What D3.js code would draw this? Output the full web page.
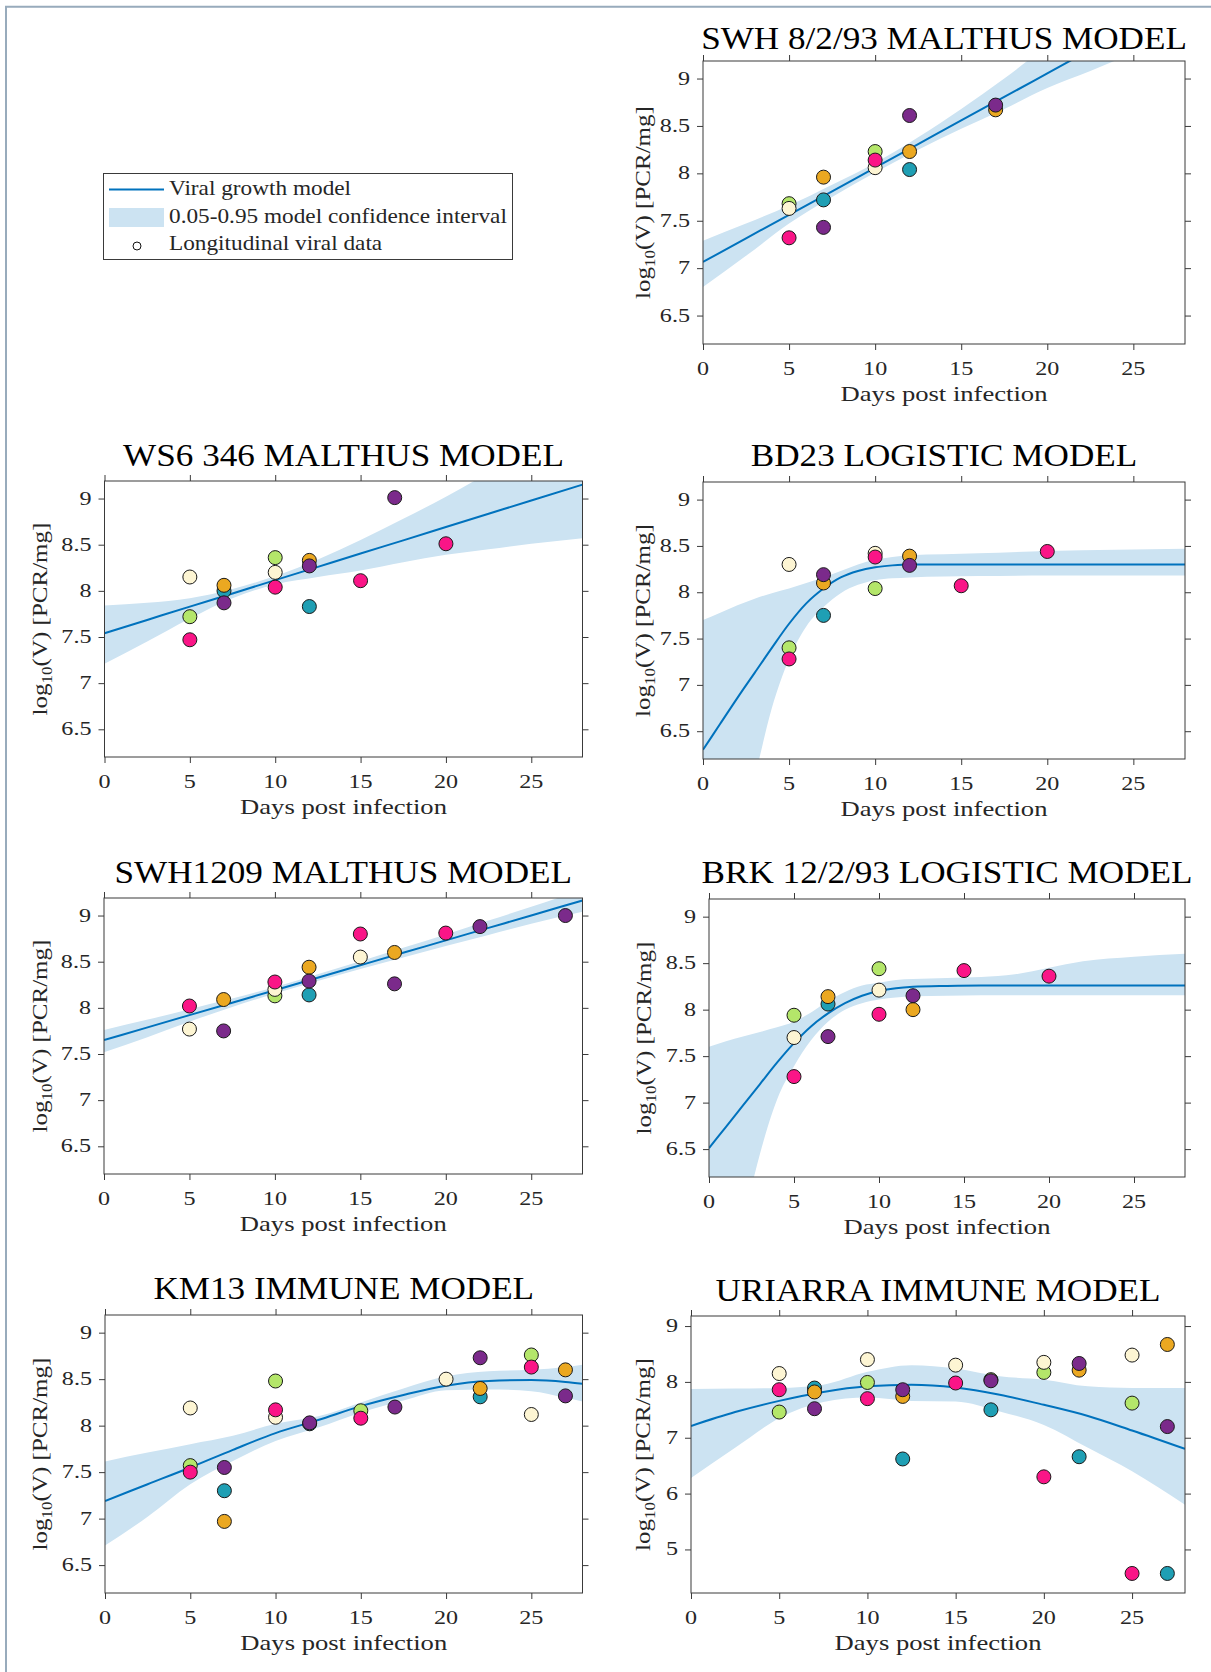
<!DOCTYPE html>
<html><head><meta charset="utf-8">
<script src="https://cdn.jsdelivr.net/npm/d3@7"></script>
<style>body{margin:0;background:#fff} svg{display:block}</style>
</head><body><svg id="fig" width="1211" height="1672"></svg>
<script>
// ================= DATA =================
const xTicks = [0, 5, 10, 15, 20, 25];
const yTicksMain = [6.5, 7, 7.5, 8, 8.5, 9];
const yTicksUriarra = [5, 6, 7, 8, 9];
const subjects = ["teal", "green", "cream", "orange", "purple", "pink"]; // drawing order
const titles = ["SWH 8/2/93 MALTHUS MODEL", "WS6 346 MALTHUS MODEL", "BD23 LOGISTIC MODEL",
  "SWH1209 MALTHUS MODEL", "BRK 12/2/93 LOGISTIC MODEL", "KM13 IMMUNE MODEL", "URIARRA IMMUNE MODEL"];
const legendLabels = ["Viral growth model", "0.05-0.95 model confidence interval", "Longitudinal viral data"];
const xLabel = "Days post infection";

// observations: [day, subject, log10 V]
const swh893Obs = [[5,"green",7.68],[5,"cream",7.63],[5,"pink",7.32],[7,"orange",7.96],[7,"teal",7.72],[7,"purple",7.43],
  [10,"green",8.23],[10,"cream",8.06],[10,"pink",8.14],[12,"purple",8.61],[12,"orange",8.23],[12,"teal",8.04],
  [17,"orange",8.67],[17,"purple",8.72]];
const swh893Days = [0, 2.5, 5, 7.5, 10, 12.5, 15, 17.5, 20, 22.5, 25, 28];
const swh893Fit  = [7.065, 7.314, 7.563, 7.811, 8.060, 8.309, 8.558, 8.806, 9.055, 9.304, 9.553, 9.851];
const swh893Hi   = [7.29, 7.47, 7.66, 7.88, 8.11, 8.38, 8.68, 9.00, 9.35, 9.70, 10.05, 10.5];
const swh893Lo   = [6.80, 7.13, 7.47, 7.75, 8.01, 8.25, 8.47, 8.68, 8.90, 9.08, 9.27, 9.50];

const ws6Obs = [[5,"cream",8.15],[5,"green",7.72],[5,"pink",7.47],[7,"orange",8.06],[7,"teal",8.00],[7,"purple",7.87],
  [10,"green",8.36],[10,"cream",8.20],[10,"pink",8.04],[12,"orange",8.33],[12,"purple",8.27],[12,"teal",7.83],
  [15,"pink",8.11],[17,"purple",9.01],[20,"pink",8.51]];
const ws6Days = [0, 2.5, 5, 7.5, 10, 12.5, 15, 17.5, 20, 22.5, 25, 28];
const ws6Fit  = [7.541, 7.685, 7.829, 7.972, 8.116, 8.260, 8.404, 8.547, 8.691, 8.835, 8.979, 9.151];
const ws6Hi   = [7.84, 7.87, 7.92, 8.02, 8.16, 8.34, 8.55, 8.78, 9.02, 9.28, 9.55, 9.85];
const ws6Lo   = [7.21, 7.45, 7.70, 7.92, 8.07, 8.15, 8.22, 8.31, 8.39, 8.45, 8.51, 8.57];

const bd23Obs = [[5,"cream",8.30],[5,"green",7.40],[5,"pink",7.28],[7,"purple",8.19],[7,"orange",8.10],[7,"teal",7.75],
  [10,"cream",8.42],[10,"pink",8.38],[10,"green",8.04],[12,"orange",8.39],[12,"purple",8.29],
  [15,"pink",8.07],[20,"pink",8.44]];
const bd23Days = [0, 1, 2, 3, 4, 5, 6, 7, 8, 9, 10, 11, 12, 14, 16, 20, 24, 28];
const bd23Fit  = [6.30, 6.58, 6.86, 7.13, 7.40, 7.66, 7.88, 8.04, 8.16, 8.23, 8.27, 8.29, 8.30, 8.30, 8.30, 8.30, 8.30, 8.30];
const bd23Hi   = [7.70, 7.78, 7.86, 7.93, 7.99, 8.04, 8.10, 8.16, 8.23, 8.30, 8.35, 8.38, 8.40, 8.41, 8.42, 8.445, 8.46, 8.47];
const bd23Lo   = [4.00, 4.60, 5.30, 6.00, 6.75, 7.28, 7.63, 7.84, 7.99, 8.08, 8.13, 8.15, 8.16, 8.17, 8.175, 8.18, 8.18, 8.18];

const swh1209Obs = [[5,"pink",8.02],[5,"cream",7.77],[7,"orange",8.09],[7,"purple",7.75],
  [10,"pink",8.28],[10,"cream",8.20],[10,"green",8.13],[12,"orange",8.44],[12,"purple",8.29],[12,"teal",8.14],
  [15,"pink",8.80],[15,"cream",8.55],[17,"orange",8.60],[17,"purple",8.26],[20,"pink",8.81],[22,"purple",8.88],[27,"purple",9.00]];
const swh1209Days = [0, 2.5, 5, 7.5, 10, 12.5, 15, 17.5, 20, 22.5, 25, 28];
const swh1209Fit  = [7.651, 7.786, 7.921, 8.056, 8.191, 8.326, 8.461, 8.596, 8.731, 8.866, 9.001, 9.163];
const swh1209Hi   = [7.76, 7.87, 7.985, 8.10, 8.225, 8.365, 8.505, 8.65, 8.795, 8.945, 9.095, 9.28];
const swh1209Lo   = [7.52, 7.68, 7.85, 8.01, 8.155, 8.29, 8.42, 8.545, 8.67, 8.79, 8.91, 9.04];

const brkObs = [[5,"green",7.94],[5,"cream",7.70],[5,"pink",7.28],[7,"orange",8.14],[7,"teal",8.06],[7,"purple",7.71],
  [10,"green",8.44],[10,"cream",8.21],[10,"pink",7.95],[12,"purple",8.15],[12,"orange",8.00],
  [15,"pink",8.42],[20,"pink",8.36]];
const brkDays = [0, 1, 2, 3, 4, 5, 6, 7, 8, 9, 10, 11, 12, 14, 16, 18, 20, 22, 25, 28];
const brkFit  = [6.51, 6.74, 6.97, 7.20, 7.43, 7.64, 7.82, 7.96, 8.07, 8.15, 8.20, 8.23, 8.245, 8.255, 8.26, 8.26, 8.26, 8.26, 8.26, 8.26];
const brkHi   = [7.60, 7.66, 7.71, 7.76, 7.81, 7.87, 7.97, 8.09, 8.19, 8.26, 8.29, 8.32, 8.33, 8.34, 8.35, 8.38, 8.45, 8.52, 8.57, 8.60];
const brkLo   = [4.00, 4.90, 5.70, 6.45, 7.03, 7.39, 7.67, 7.87, 8.00, 8.07, 8.11, 8.13, 8.145, 8.15, 8.155, 8.155, 8.156, 8.156, 8.156, 8.156];

const km13Obs = [[5,"cream",8.19],[5,"green",7.57],[5,"pink",7.50],[7,"purple",7.55],[7,"teal",7.30],[7,"orange",6.97],
  [10,"green",8.48],[10,"pink",8.17],[10,"cream",8.09],[12,"teal",8.02],[12,"purple",8.03],
  [15,"green",8.16],[15,"pink",8.08],[17,"purple",8.20],[20,"cream",8.50],
  [22,"purple",8.73],[22,"orange",8.40],[22,"teal",8.31],[25,"green",8.76],[25,"pink",8.63],[25,"cream",8.12],
  [27,"orange",8.60],[27,"purple",8.32]];
const km13Days = [0, 2.5, 5, 7.5, 10, 12.5, 15, 17.5, 20, 22.5, 25, 27, 28];
const km13Fit  = [7.19, 7.37, 7.55, 7.74, 7.92, 8.06, 8.21, 8.33, 8.43, 8.48, 8.49, 8.47, 8.45];
const km13Hi   = [7.615, 7.71, 7.80, 7.89, 8.02, 8.10, 8.25, 8.40, 8.53, 8.585, 8.60, 8.63, 8.655];
const km13Lo   = [6.71, 7.02, 7.37, 7.62, 7.835, 7.98, 8.14, 8.27, 8.38, 8.39, 8.37, 8.30, 8.26];

const uriarraObs = [[5,"cream",8.15],[5,"pink",7.86],[5,"green",7.46],[7,"teal",7.89],[7,"orange",7.82],[7,"purple",7.52],
  [10,"cream",8.40],[10,"green",7.99],[10,"pink",7.70],[12,"purple",7.86],[12,"orange",7.74],[12,"teal",6.62],
  [15,"cream",8.30],[15,"pink",7.98],[17,"green",8.04],[17,"purple",8.02],[17,"teal",7.50],
  [20,"cream",8.35],[20,"green",8.17],[20,"pink",6.30],[22,"purple",8.33],[22,"orange",8.21],[22,"teal",6.66],
  [25,"cream",8.48],[25,"green",7.62],[25,"pink",4.57],[27,"orange",8.67],[27,"purple",7.20],[27,"teal",4.57]];
const uriarraDays = [0, 2.5, 5, 7.5, 10, 12.5, 15, 17.5, 20, 22.5, 25, 28];
const uriarraFit  = [7.21, 7.46, 7.66, 7.82, 7.92, 7.95, 7.90, 7.77, 7.59, 7.39, 7.13, 6.80];
const uriarraHi   = [7.875, 7.88, 7.89, 7.95, 8.18, 8.30, 8.24, 8.10, 8.04, 7.92, 7.89, 7.89];
const uriarraLo   = [6.28, 6.82, 7.35, 7.64, 7.72, 7.66, 7.65, 7.47, 7.23, 6.82, 6.40, 5.80];

// ================= STYLE / LAYOUT =================
const FONT = "'Liberation Serif','Times New Roman',serif";
const subjectColor = {teal:"#1f9fb4", green:"#b4e66a", cream:"#fdf5d3", orange:"#eba821", purple:"#7b2a8b", pink:"#fa1587"};
const LINE = "#0072bd", BAND = "#cce3f2", AX = "#3a3a3a", TXT = "#262626";

const panels = [
  {title:titles[0], obs:swh893Obs, days:swh893Days, fit:swh893Fit, lo:swh893Lo, hi:swh893Hi, yd:[6.2,9.185], yt:yTicksMain, box:[703,61,1185,344], ty:49, ylx:650},
  {title:titles[1], obs:ws6Obs, days:ws6Days, fit:ws6Fit, lo:ws6Lo, hi:ws6Hi, yd:[6.2,9.19], yt:yTicksMain, box:[104.5,481,582.5,757], ty:466, ylx:47},
  {title:titles[2], obs:bd23Obs, days:bd23Days, fit:bd23Fit, lo:bd23Lo, hi:bd23Hi, yd:[6.2,9.19], yt:yTicksMain, box:[703,482,1185,759], ty:466, ylx:650},
  {title:titles[3], obs:swh1209Obs, days:swh1209Days, fit:swh1209Fit, lo:swh1209Lo, hi:swh1209Hi, yd:[6.2,9.19], yt:yTicksMain, box:[104,898,582.5,1174], ty:883, ylx:47},
  {title:titles[4], obs:brkObs, days:brkDays, fit:brkFit, lo:brkLo, hi:brkHi, yd:[6.2,9.19], yt:yTicksMain, box:[709,899,1185,1177], ty:883, ylx:651},
  {title:titles[5], obs:km13Obs, days:km13Days, fit:km13Fit, lo:km13Lo, hi:km13Hi, yd:[6.2,9.19], yt:yTicksMain, box:[105,1315,582.5,1593], ty:1299, ylx:47},
  {title:titles[6], obs:uriarraObs, days:uriarraDays, fit:uriarraFit, lo:uriarraLo, hi:uriarraHi, yd:[4.22,9.18], yt:yTicksUriarra, box:[691,1316,1185,1593], ty:1301, ylx:650}
];

const svg = d3.select("#fig");

// ---- width calibration (Computer Modern is wider than Times) ----
function measureText(build, size) {
  const t = svg.append("text").attr("font-family", FONT).attr("font-size", size);
  build(t);
  const w = t.node().getComputedTextLength();
  t.remove();
  return w;
}
const TITLE_FS = 31, LABEL_FS = 22, TICK_FS = 19, LEG_FS = 21;
const kTitle = 486 / measureText(t => t.text(titles[0]), TITLE_FS);
const kLabel = 207 / measureText(t => t.text(xLabel), LABEL_FS);
function yLab(t) {
  t.append("tspan").text("log");
  t.append("tspan").attr("font-size", "0.68em").attr("dy", 5).text("10");
  t.append("tspan").attr("dy", -5).text("(V) [PCR/mg]");
}
const kYLab = 193 / measureText(yLab, LABEL_FS);
const kLeg = 338 / measureText(t => t.text(legendLabels[1]), LEG_FS);
const kTick = 1.27;

// ---- figure border ----
svg.append("path").attr("d", "M6,1672 V6.8 H1211").attr("fill", "none").attr("stroke", "#98abbc").attr("stroke-width", 2);

const defs = svg.append("defs");

panels.forEach((p, i) => {
  const [l, t, r, b] = p.box;
  const x = d3.scaleLinear().domain([0, 28]).range([l, r]);
  const y = d3.scaleLinear().domain(p.yd).range([b, t]);
  const g = svg.append("g");

  defs.append("clipPath").attr("id", "clip" + i)
    .append("rect").attr("x", l).attr("y", t).attr("width", r - l).attr("height", b - t);

  const rows = p.days.map((d, k) => ({d, f: p.fit[k], lo: p.lo[k], hi: p.hi[k]}));
  const area = d3.area().x(o => x(o.d)).y0(o => y(o.lo)).y1(o => y(o.hi)).curve(d3.curveMonotoneX);
  const line = d3.line().x(o => x(o.d)).y(o => y(o.f)).curve(d3.curveMonotoneX);

  const plot = g.append("g").attr("clip-path", `url(#clip${i})`);
  plot.append("path").datum(rows).attr("d", area).attr("fill", BAND);
  plot.append("path").datum(rows).attr("d", line).attr("fill", "none").attr("stroke", LINE).attr("stroke-width", 2);

  // axes (ticks outward on all four sides)
  const mkAxis = (axis, tr) => g.append("g").attr("transform", tr).call(axis)
    .call(s => { s.select(".domain").remove(); s.selectAll("line").attr("stroke", AX); s.selectAll("text").remove(); });
  mkAxis(d3.axisBottom(x).tickValues(xTicks).tickSize(6), `translate(0,${b})`);
  mkAxis(d3.axisTop(x).tickValues(xTicks).tickSize(6), `translate(0,${t})`);
  mkAxis(d3.axisLeft(y).tickValues(p.yt).tickSize(6), `translate(${l},0)`);
  mkAxis(d3.axisRight(y).tickValues(p.yt).tickSize(6), `translate(${r},0)`);
  g.append("rect").attr("x", l).attr("y", t).attr("width", r - l).attr("height", b - t)
    .attr("fill", "none").attr("stroke", AX).attr("stroke-width", 1);

  // tick labels
  g.selectAll(".xt").data(xTicks).enter().append("text")
    .attr("transform", d => `translate(${x(d)},${b + 31}) scale(${kTick},1)`).attr("text-anchor", "middle")
    .attr("font-family", FONT).attr("font-size", TICK_FS).attr("fill", TXT).text(d => d);
  g.selectAll(".yt").data(p.yt).enter().append("text")
    .attr("transform", d => `translate(${l - 13},${y(d) + 6}) scale(${kTick},1)`).attr("text-anchor", "end")
    .attr("font-family", FONT).attr("font-size", TICK_FS).attr("fill", TXT).text(d => d);

  // observations
  const sorted = p.obs.slice().sort((a, c) => subjects.indexOf(a[1]) - subjects.indexOf(c[1]));
  g.selectAll("circle.obs").data(sorted).enter().append("circle")
    .attr("cx", d => x(d[0])).attr("cy", d => y(d[2])).attr("r", 7)
    .attr("fill", d => subjectColor[d[1]]).attr("stroke", "#1a1a1a").attr("stroke-width", 1);

  // title
  g.append("text").attr("transform", `translate(${(l + r) / 2},${p.ty}) scale(${kTitle},1)`)
    .attr("text-anchor", "middle").attr("font-family", FONT).attr("font-size", TITLE_FS).attr("fill", "#000").text(p.title);
  // x label
  g.append("text").attr("transform", `translate(${(l + r) / 2},${b + 57}) scale(${kLabel},1)`)
    .attr("text-anchor", "middle").attr("font-family", FONT).attr("font-size", LABEL_FS).attr("fill", TXT).text(xLabel);
  // y label
  const yl = g.append("text").attr("transform", `translate(${p.ylx},${(t + b) / 2}) rotate(-90) scale(${kYLab},1)`)
    .attr("text-anchor", "middle").attr("font-family", FONT).attr("font-size", LABEL_FS).attr("fill", TXT);
  yLab(yl);
});

// ---- legend ----
const lg = svg.append("g");
lg.append("rect").attr("x", 103.5).attr("y", 173.5).attr("width", 409).attr("height", 86)
  .attr("fill", "#fff").attr("stroke", AX).attr("stroke-width", 1);
lg.append("line").attr("x1", 109).attr("x2", 164).attr("y1", 189.5).attr("y2", 189.5).attr("stroke", LINE).attr("stroke-width", 2);
lg.append("rect").attr("x", 109).attr("y", 208).attr("width", 55).attr("height", 19).attr("fill", BAND);
lg.append("circle").attr("cx", 137).attr("cy", 246).attr("r", 4).attr("fill", "#fff").attr("stroke", "#111").attr("stroke-width", 1);
const legY = [195, 223, 250];
lg.selectAll("text.leg").data(legendLabels).enter().append("text")
  .attr("transform", (d, k) => `translate(169,${legY[k]}) scale(${kLeg},1)`)
  .attr("font-family", FONT).attr("font-size", LEG_FS).attr("fill", TXT).text(d => d);
</script>
</body></html>
